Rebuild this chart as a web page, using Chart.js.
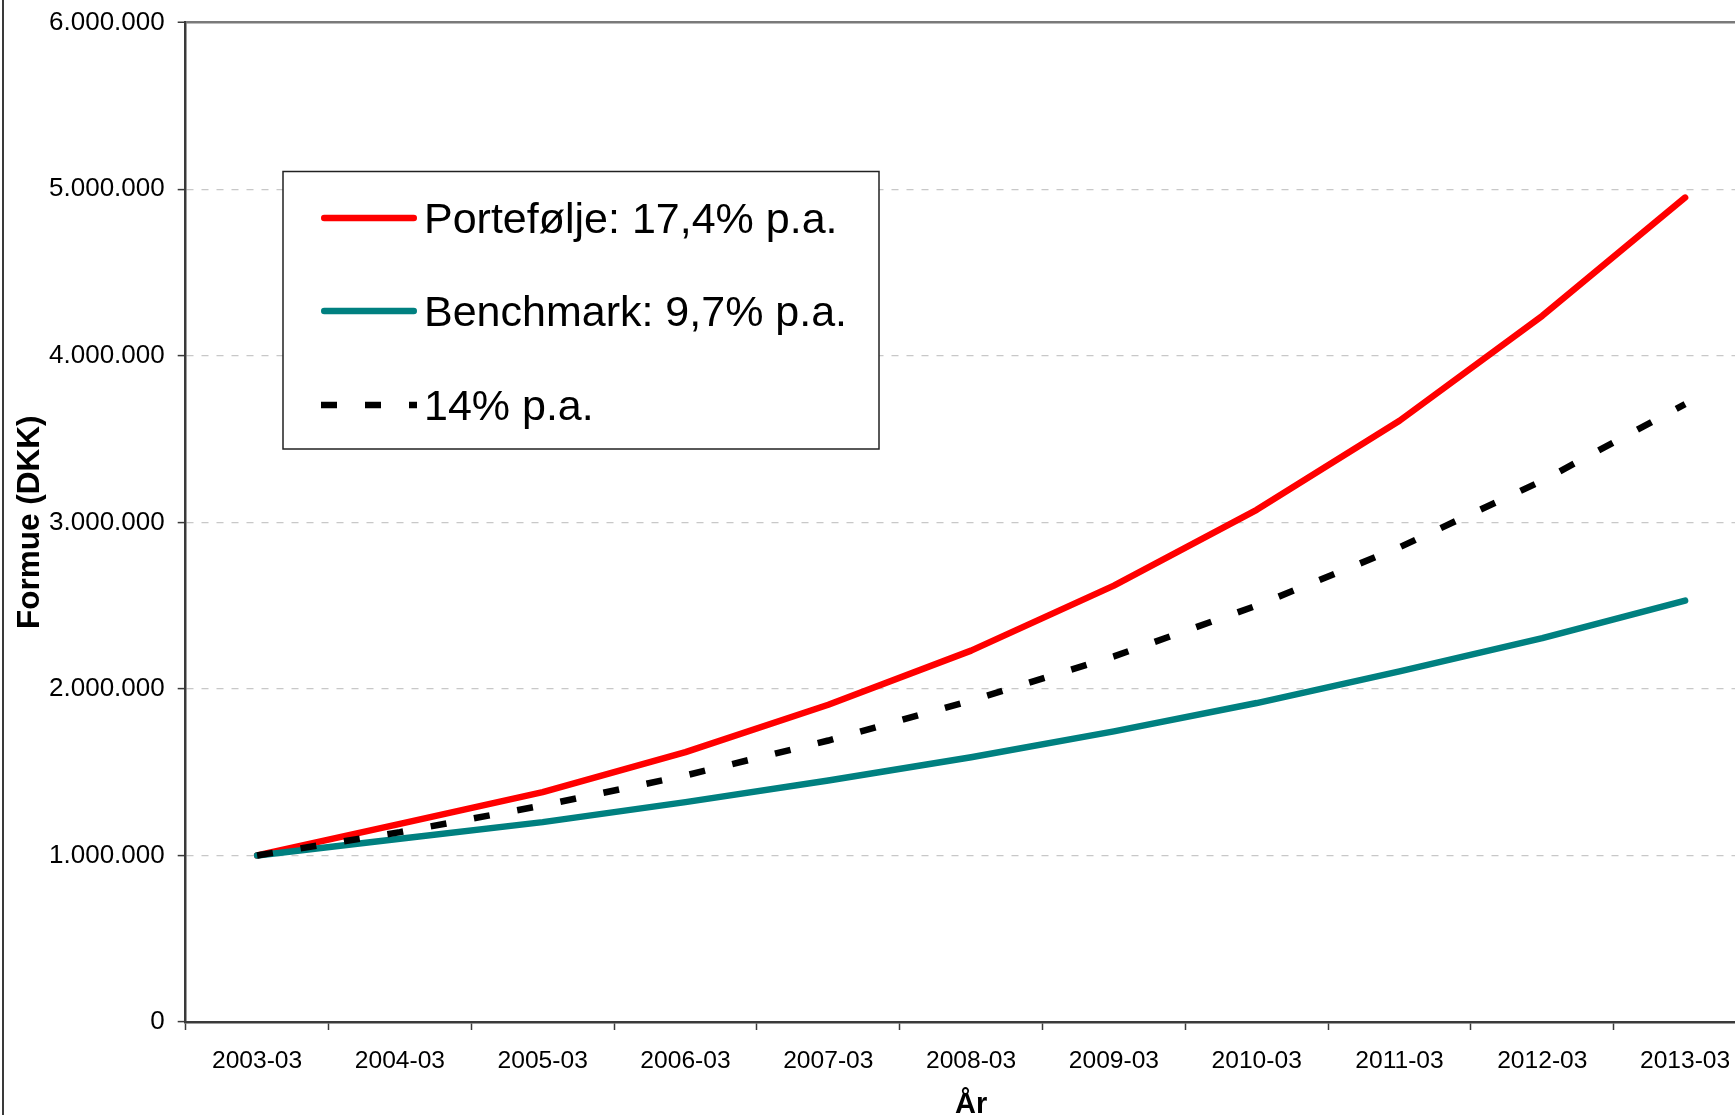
<!DOCTYPE html>
<html>
<head>
<meta charset="utf-8">
<script src="https://cdn.jsdelivr.net/npm/chart.js@4/dist/chart.umd.min.js"></script>
<style>
  html, body { margin: 0; padding: 0; background: #fff; overflow: hidden; }
  #wrap { position: relative; width: 1735px; height: 1115px; overflow: hidden; }
  #frame { position: absolute; left: 2px; top: 0; width: 2px; height: 1115px; background: #3a3a3a; }
  canvas { position: absolute; left: 0; top: 0; }
</style>
</head>
<body>
<div id="wrap">
  <canvas id="formueChart" width="1760" height="1122"></canvas>
  <div id="frame"></div>
</div>
<script>
// Data
const years = ['2003-03', '2004-03', '2005-03', '2006-03', '2007-03', '2008-03',
               '2009-03', '2010-03', '2011-03', '2012-03', '2013-03'];
const portefolje = [1000000, 1190000, 1380000, 1620000, 1905000, 2230000,
                    2620000, 3075000, 3610000, 4240000, 4950000];
const benchmark = [1000000, 1100000, 1200000, 1320000, 1450000, 1590000,
                   1745000, 1915000, 2105000, 2305000, 2530000];
const pct14 = [1000000, 1140000, 1300000, 1480000, 1690000, 1930000,
               2195000, 2500000, 2850000, 3250000, 3710000];
const yTicks = [0, 1000000, 2000000, 3000000, 4000000, 5000000, 6000000];

const FONT = "'Liberation Sans', Arial, sans-serif";

function fmt(v) {
    return String(v).replace(/\B(?=(\d{3})+(?!\d))/g, '.');
}

// Legend box drawn inside the plot, like the original
const boxLegend = {
    id: 'boxLegend',
    afterDraw(chart) {
        const ctx = chart.ctx;
        const x0 = 283, y0 = 171.5, w = 596, h = 277.5;
        ctx.save();
        ctx.fillStyle = '#fff';
        ctx.fillRect(x0, y0, w, h);
        ctx.strokeStyle = '#222';
        ctx.lineWidth = 1.5;
        ctx.strokeRect(x0, y0, w, h);
        const rows = [218, 311, 405];
        chart.data.datasets.forEach((ds, i) => {
            const y = rows[i];
            ctx.beginPath();
            ctx.strokeStyle = ds.borderColor;
            ctx.lineWidth = ds.borderWidth;
            ctx.lineCap = ds.borderCapStyle || 'butt';
            ctx.setLineDash(ds.borderDash || []);
            const inset = ds.borderCapStyle === 'round' ? ds.borderWidth / 2 : 0;
            ctx.moveTo(321 + inset, y);
            ctx.lineTo(417 - inset, y);
            ctx.stroke();
            ctx.setLineDash([]);
            ctx.fillStyle = '#000';
            ctx.font = '43px ' + FONT;
            ctx.textBaseline = 'middle';
            ctx.textAlign = 'left';
            ctx.fillText(ds.label, 424, y + 3);
        });
        ctx.restore();
    }
};

const ctx = document.getElementById('formueChart').getContext('2d');
new Chart(ctx, {
    type: 'line',
    data: {
        labels: years,
        datasets: [{
            label: 'Portefølje: 17,4% p.a.',
            data: portefolje,
            borderColor: '#ff0000',
            borderWidth: 6.5,
            borderCapStyle: 'round',
            borderJoinStyle: 'round',
            order: 2
        }, {
            label: 'Benchmark: 9,7% p.a.',
            data: benchmark,
            borderColor: '#008080',
            borderWidth: 6.5,
            borderCapStyle: 'round',
            borderJoinStyle: 'round',
            order: 1
        }, {
            label: '14% p.a.',
            data: pct14,
            borderColor: '#000000',
            borderWidth: 6.5,
            borderDash: [16, 28],
            borderCapStyle: 'butt',
            order: 0
        }]
    },
    options: {
        responsive: false,
        animation: false,
        events: [],
        elements: {
            point: { radius: 0 },
            line: { tension: 0, fill: false }
        },
        layout: {
            padding: { left: 8, right: 3.5, top: 22.7, bottom: 0 }
        },
        plugins: {
            legend: { display: false },
            tooltip: { enabled: false }
        },
        scales: {
            x: {
                offset: true,
                afterFit(axis) { axis.height = 100; },
                grid: {
                    offset: true,
                    drawOnChartArea: false,
                    tickLength: 8,
                    tickColor: '#3a3a3a',
                    tickWidth: 1.5
                },
                border: { color: '#3a3a3a', width: 2.5 },
                ticks: {
                    color: '#000',
                    padding: 16,
                    maxRotation: 0,
                    autoSkip: false,
                    font: { family: FONT, size: 24.6 }
                },
                title: {
                    display: true,
                    text: 'År',
                    color: '#000',
                    padding: { top: 0, bottom: 0 },
                    font: { family: FONT, size: 29, weight: 'bold' }
                }
            },
            y: {
                min: 0,
                max: 6000000,
                afterFit(axis) {
                    axis.width = 177.7;
                    axis.paddingTop = 0;
                    axis.paddingBottom = 0;
                },
                afterBuildTicks(axis) {
                    axis.ticks = yTicks.map(v => ({ value: v }));
                },
                grid: {
                    color: c => {
                        if (!c.tick) return '#c8c8c8';
                        if (c.tick.value === 0) return 'rgba(0,0,0,0)';
                        if (c.tick.value === 6000000) return '#7a7a7a';
                        return '#c8c8c8';
                    },
                    lineWidth: c => (c.tick && c.tick.value === 6000000) ? 2.5 : 1.2,
                    tickLength: 8,
                    tickColor: '#3a3a3a',
                    tickWidth: 1.5,
                    tickBorderDash: []
                },
                border: {
                    color: '#3a3a3a',
                    width: 2.5,
                    dash: c => (c.tick && c.tick.value !== 6000000) ? [7, 8] : []
                },
                ticks: {
                    color: '#000',
                    padding: 13,
                    font: { family: FONT, size: 26 },
                    callback: v => fmt(v)
                },
                title: {
                    display: true,
                    text: 'Formue (DKK)',
                    color: '#000',
                    padding: { top: 3, bottom: 0 },
                    font: { family: FONT, size: 31.5, weight: 'bold' }
                }
            }
        }
    },
    plugins: [boxLegend]
});
</script>
</body>
</html>
